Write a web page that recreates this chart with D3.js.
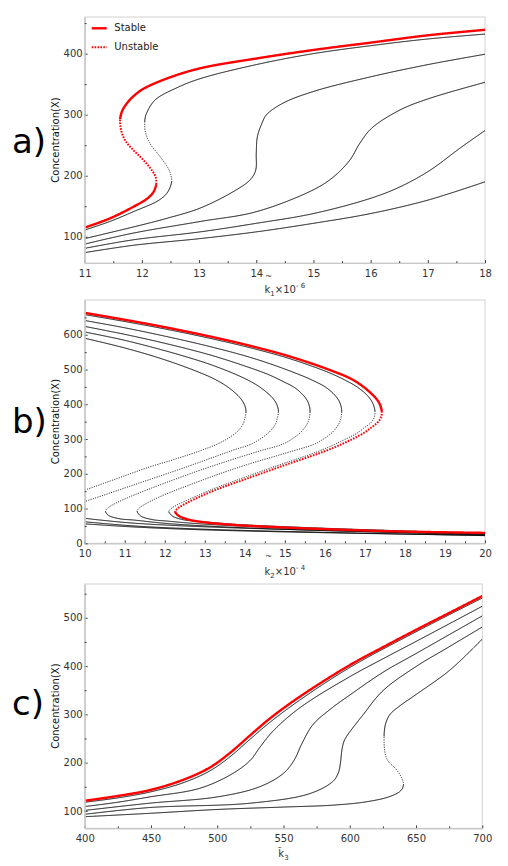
<!DOCTYPE html>
<html>
<head>
<meta charset="utf-8">
<script src="https://cdn.jsdelivr.net/npm/d3@7"></script>
<style>
body { margin: 0; background: #fff; }
text { font-family: "DejaVu Sans", sans-serif; }
</style>
</head>
<body>
<div id="chart"></div>
<script>
////////////////////////////////////////////////////////////////////////////////////////
// Canvas
var svgWidth = 508;
var svgHeight = 866;

////////////////////////////////////////////////////////////////////////////////////////
// Data: [parameter, Concentration(X)]

// a) k1 x 10^-6
var aTicksX = [11, 12, 13, 14, 15, 16, 17, 18];
var aMinorX = [11.5, 12.5, 13.5, 14.5, 15.5, 16.5, 17.5];
var aTicksY = [100, 200, 300, 400];
var aMinorY = [150, 250, 350, 450];

var a1Low = [[11, 115], [11.44, 130], [11.85, 149], [12.1, 163], [12.2, 173], [12.25, 186]];
var a1Mid = [[12.25, 186], [12.24, 198], [12.18, 208], [12.08, 220], [11.96, 232], [11.85, 242], [11.72, 256], [11.65, 270], [11.62, 285], [11.62, 293]];
var a1Up = [[11.62, 293], [11.64, 302], [11.67, 309], [11.75, 320], [11.85, 330], [12.02, 342], [12.43, 359], [13.02, 376], [14, 392], [15, 406], [16, 418], [17, 430], [18, 439]];
var a2Low = [[11, 111], [11.44, 125], [11.85, 141], [12.3, 160], [12.45, 173], [12.52, 190]];
var a2Mid = [[12.52, 190], [12.51, 200], [12.46, 212], [12.32, 231], [12.14, 253], [12.06, 272], [12.05, 288]];
var a2Up = [[12.05, 288], [12.06, 296], [12.08, 302], [12.23, 324], [12.61, 344], [13.02, 359], [14, 382], [15, 400], [16, 413], [17, 424], [18, 432]];
var a3 = [[11, 97], [11.85, 116], [12.43, 130], [13.02, 147], [13.6, 174], [13.89, 193], [13.99, 209], [14, 237], [14.02, 264], [14.1, 286], [14.18, 300], [14.47, 319], [15, 338], [16, 362], [17, 382], [18, 399]];
var a4 = [[11, 88], [11.85, 106], [13.02, 125], [14, 141], [15, 177], [15.35, 198], [15.64, 226], [15.81, 253], [16.02, 278], [16.52, 308], [17.04, 327], [18, 353]];
var a5 = [[11, 81], [11.85, 95], [13.02, 108], [14, 122], [15, 138], [16, 163], [16.52, 182], [17.04, 209], [17.56, 245], [18, 274]];
var a6 = [[11, 74], [11.85, 86], [13.02, 97], [14, 108], [15, 122], [16, 138], [17, 160], [18, 190]];

// b) k2 x 10^-4
var bTicksX = [10, 11, 12, 13, 14, 15, 16, 17, 18, 19, 20];
var bMinorX = [10.5, 11.5, 12.5, 13.5, 14.5, 15.5, 16.5, 17.5, 18.5, 19.5];
var bTicksY = [0, 100, 200, 300, 400, 500, 600];
var bMinorY = [50, 150, 250, 350, 450, 550, 650];

var b1Up = [[10, 663], [10.91, 645], [11.86, 625], [12.93, 600], [14, 572], [15.05, 540], [16.09, 500], [16.72, 469], [17.15, 432], [17.35, 405], [17.42, 380]];
var b1Mid = [[17.42, 380], [17.4, 362], [17.31, 347], [17.16, 333], [16.98, 318], [16.55, 292], [16, 265], [15, 225], [14, 184], [13.3, 155], [12.8, 130], [12.45, 110], [12.3, 98], [12.26, 92]];
var b1Low = [[12.26, 92], [12.3, 84], [12.38, 77], [12.6, 68], [12.88, 62], [13.71, 53], [14.88, 46], [16.2, 40], [17.88, 34], [20, 30]];
var b2Up = [[10, 658], [10.91, 640], [11.9, 619], [12.96, 594], [14.05, 565], [15.07, 533], [16.06, 493], [16.53, 468], [16.84, 447], [17.08, 423], [17.2, 402], [17.25, 381]];
var b2Mid = [[17.25, 381], [17.23, 362], [17.15, 347], [16.99, 333], [16.82, 318], [16.38, 292], [15.85, 265], [14.85, 225], [13.9, 186], [13.2, 156], [12.68, 130], [12.3, 110], [12.14, 98], [12.1, 92]];
var b2Low = [[12.1, 92], [12.14, 84], [12.21, 77], [12.45, 68], [12.88, 63], [13.71, 55], [15.38, 46], [17.88, 36], [20, 29]];
var b3Up = [[10, 641], [11, 620], [12.04, 595], [13.13, 566], [14.19, 533], [15.1, 497], [15.71, 468], [16.07, 445], [16.32, 416], [16.4, 396], [16.42, 378]];
var b3Mid = [[16.42, 378], [16.4, 360], [16.35, 344], [16.24, 326], [16.1, 311], [15.75, 286], [15.21, 266], [13.88, 220], [12.71, 172], [11.88, 134], [11.5, 112], [11.35, 100], [11.31, 92]];
var b3Low = [[11.31, 92], [11.35, 84], [11.42, 77], [11.7, 68], [12.05, 64], [12.88, 56], [14.55, 46], [16.2, 38], [20, 27]];
var b4Up = [[10, 624], [11.05, 600], [12.09, 573], [13.19, 540], [14.18, 503], [14.6, 485], [14.93, 467], [15.28, 445], [15.53, 416], [15.61, 396], [15.63, 378]];
var b4Mid = [[15.63, 378], [15.61, 360], [15.56, 344], [15.45, 326], [15.31, 311], [14.96, 286], [14.38, 266], [13.13, 220], [11.97, 172], [11.13, 134], [10.72, 112], [10.56, 100], [10.52, 92]];
var b4Low = [[10.52, 92], [10.56, 84], [10.63, 78], [10.9, 70], [11.22, 67], [12.05, 57], [13.71, 46], [16.2, 36], [20, 26]];
var b5Up = [[10, 608], [11, 584], [12.04, 553], [12.58, 535], [13.1, 516], [13.69, 490], [14.12, 467], [14.43, 445], [14.71, 416], [14.81, 396], [14.84, 378]];
var b5Mid = [[14.84, 378], [14.81, 360], [14.77, 344], [14.66, 326], [14.52, 311], [14.17, 286], [13.71, 268], [12.55, 220], [11.38, 174], [10, 120]];
var b5Low = [[10, 72], [10.38, 67], [11.22, 58], [12.88, 48], [16.2, 36], [20, 24]];
var b6Up = [[10, 590], [11, 562], [12, 528], [12.9, 490], [13.3, 469], [13.63, 445], [13.9, 416], [14, 396], [14.03, 378]];
var b6Mid = [[14.03, 378], [14, 360], [13.96, 344], [13.85, 326], [13.7, 311], [13.36, 288], [12.88, 266], [12.2, 240], [11.63, 220], [10.8, 186], [10, 153]];
var b6Low = [[10, 62], [11.22, 50], [12.88, 41], [16.2, 31], [20, 22]];
var b7Low = [[10, 56], [11.22, 47], [12.88, 39], [16.2, 30], [20, 23]];

// c) k3
var cTicksX = [400, 450, 500, 550, 600, 650, 700];
var cMinorX = [425, 475, 525, 575, 625, 675];
var cTicksY = [100, 200, 300, 400, 500];
var cMinorY = [150, 250, 350, 450, 550];

var c1 = [[400, 121], [425, 131], [449, 143], [474, 164], [494.5, 190], [510, 221], [525, 257], [540, 292], [562.5, 337], [600, 402], [625, 439], [650, 475], [675, 510], [700, 545]];
var c2 = [[400, 118], [425, 127], [449, 139], [474, 158], [494.5, 183], [510, 213], [525, 249], [540, 284], [562.5, 330], [600, 397], [650, 471], [700, 541]];
var c3 = [[400, 109], [425, 118], [449, 129], [487, 147], [512, 178], [525, 205], [532, 231], [542, 265], [562.5, 314], [600, 378], [625, 415], [650, 451], [700, 524]];
var c4 = [[400, 101], [449, 116], [500, 129], [532, 150], [550, 178], [558, 205], [564, 240], [572, 278], [585, 310], [600, 340], [625, 387], [650, 426], [700, 504]];
var c5 = [[400, 93], [449, 107], [525, 116], [570, 136], [587.6, 162], [591.5, 180], [593, 200], [594, 225], [595.5, 243], [598, 256], [602, 271], [610, 299], [625, 349], [650, 399], [675, 440], [700, 481]];
var c6Low = [[400, 88], [449, 95], [500, 103], [550, 108], [587.6, 112], [612.8, 119], [630.4, 130], [638.5, 142], [640.5, 154]];
var c6Mid = [[640.5, 154], [639.5, 166], [635.4, 185], [628.5, 205], [626.3, 226], [625.9, 254]];
var c6Up = [[625.9, 254], [626.2, 268], [627.3, 283], [630.4, 300], [637, 316], [650.5, 342], [675.7, 392], [700, 456]];

////////////////////////////////////////////////////////////////////////////////////////
// Curves, branch by branch in drawing order: stable = solid, unstable = dotted; hl = the red case
var aCurves = [
    {hl: false, segs: [[a2Low, true], [a2Mid, false], [a2Up, true]]},
    {hl: false, segs: [[a3, true]]},
    {hl: false, segs: [[a4, true]]},
    {hl: false, segs: [[a5, true]]},
    {hl: false, segs: [[a6, true]]},
    {hl: true, segs: [[a1Low, true], [a1Mid, false], [a1Up, true]]}
];
var bCurves = [
    {hl: false, segs: [[b2Up, true], [b2Mid, false], [b2Low, true]]},
    {hl: false, segs: [[b3Up, true], [b3Mid, false], [b3Low, true]]},
    {hl: false, segs: [[b4Up, true], [b4Mid, false], [b4Low, true]]},
    {hl: false, segs: [[b5Up, true], [b5Mid, false]]},
    {hl: false, segs: [[b5Low, true]]},
    {hl: false, segs: [[b6Up, true], [b6Mid, false]]},
    {hl: false, segs: [[b6Low, true]]},
    {hl: false, segs: [[b7Low, true]]},
    {hl: true, segs: [[b1Up, true], [b1Mid, false], [b1Low, true]]}
];
var cCurves = [
    {hl: false, segs: [[c2, true]]},
    {hl: false, segs: [[c3, true]]},
    {hl: false, segs: [[c4, true]]},
    {hl: false, segs: [[c5, true]]},
    {hl: false, segs: [[c6Low, true], [c6Mid, false], [c6Up, true]]},
    {hl: true, segs: [[c1, true]]}
];

////////////////////////////////////////////////////////////////////////////////////////
// Panel layout
var panels = [
    {tag: "a)", tagY: 153, left: 84.7, right: 485, top: 17, bottom: 263,
     xDomain: [11, 18], yDomain: [57, 460],
     xTicks: aTicksX, xMinor: aMinorX, yTicks: aTicksY, yMinor: aMinorY,
     curves: aCurves, sub: "1", sup: "- 6", labelY: 293, legend: true},
    {tag: "b)", tagY: 433, left: 84.7, right: 485, top: 300, bottom: 543.3,
     xDomain: [10, 20], yDomain: [0, 700],
     xTicks: bTicksX, xMinor: bMinorX, yTicks: bTicksY, yMinor: bMinorY,
     curves: bCurves, sub: "2", sup: "- 4", labelY: 575, legend: false},
    {tag: "c)", tagY: 715, left: 84.7, right: 482.3, top: 584, bottom: 828.3,
     xDomain: [400, 700], yDomain: [64, 570],
     xTicks: cTicksX, xMinor: cMinorX, yTicks: cTicksY, yMinor: cMinorY,
     curves: cCurves, sub: "3", sup: null, labelY: 857, legend: false}
];

var svg = d3.select("#chart").append("svg")
    .attr("width", svgWidth)
    .attr("height", svgHeight);

var red = "#ff0000";

// Draw one smooth curve through all branches, then cut it at the fold points
// so that solid and dotted pieces join without corners.
function splitCurve(segs, line, x, y) {
    var full = [];
    var joins = [];
    segs.forEach(function(s, j) {
        full = full.concat(j === 0 ? s[0] : s[0].slice(1));
        joins.push(full[full.length - 1]);
    });
    var tmp = svg.append("path").attr("d", line(full)).attr("fill", "none");
    var node = tmp.node();
    var L = node.getTotalLength();
    var samples = [];
    for (var s = 0; s < L; s += 0.5) samples.push(node.getPointAtLength(s));
    samples.push(node.getPointAtLength(L));
    tmp.remove();

    var pieces = [];
    var start = 0;
    segs.forEach(function(seg, j) {
        var end = samples.length - 1;
        if (j < segs.length - 1) {
            var px = x(joins[j][0]), py = y(joins[j][1]);
            var bd = Infinity;
            for (var k = start; k < samples.length; k++) {
                var d = (samples[k].x - px) * (samples[k].x - px) + (samples[k].y - py) * (samples[k].y - py);
                if (d < bd) { bd = d; end = k; }
            }
        }
        pieces.push({pts: samples.slice(start, end + 1), stable: seg[1]});
        start = end;
    });
    return pieces;
}

function drawPanel(p, i) {
    var g = svg.append("g");
    var x = d3.scaleLinear().domain(p.xDomain).range([p.left, p.right]);
    var y = d3.scaleLinear().domain(p.yDomain).range([p.bottom, p.top]);

    // clip to plot area
    g.append("clipPath").attr("id", "clip" + i)
        .append("rect")
        .attr("x", p.left).attr("y", p.top)
        .attr("width", p.right - p.left).attr("height", p.bottom - p.top);

    // frame
    g.append("rect")
        .attr("x", p.left).attr("y", p.top)
        .attr("width", p.right - p.left).attr("height", p.bottom - p.top)
        .attr("fill", "none").attr("stroke", "#d2d2d2").attr("stroke-width", 1);

    var line = d3.line()
        .x(function(d) { return x(d[0]); })
        .y(function(d) { return y(d[1]); })
        .curve(d3.curveCatmullRom.alpha(0.5));
    var poly = d3.line().x(function(d) { return d.x; }).y(function(d) { return d.y; });

    var plot = g.append("g").attr("clip-path", "url(#clip" + i + ")");

    p.curves.forEach(function(c) {
        splitCurve(c.segs, line, x, y).forEach(function(piece) {
            var path = plot.append("path").attr("d", poly(piece.pts))
                .attr("fill", "none")
                .attr("stroke", c.hl ? red : "#000");
            if (piece.stable) {
                path.attr("stroke-width", c.hl ? 2.4 : 1);
            } else {
                path.attr("stroke-width", c.hl ? 2 : 1)
                    .attr("stroke-dasharray", c.hl ? "1.6,1.3" : "1,1.4");
            }
        });
    });

    // Axes (ticks point inward)
    var fmt = d3.format("d");
    var xAxis = g.append("g").attr("transform", "translate(0," + p.bottom + ")")
        .call(d3.axisBottom(x).tickValues(p.xTicks).tickFormat(fmt).tickSizeInner(-3).tickSizeOuter(0).tickPadding(6.5));
    var xMinor = g.append("g").attr("transform", "translate(0," + p.bottom + ")")
        .call(d3.axisBottom(x).tickValues(p.xMinor).tickSizeInner(-2).tickSizeOuter(0).tickFormat(""));
    var yAxis = g.append("g").attr("transform", "translate(" + p.left + ",0)")
        .call(d3.axisLeft(y).tickValues(p.yTicks).tickFormat(fmt).tickSizeInner(-3).tickSizeOuter(0).tickPadding(2));
    var yMinor = g.append("g").attr("transform", "translate(" + p.left + ",0)")
        .call(d3.axisLeft(y).tickValues(p.yMinor.filter(function(v) { return v <= p.yDomain[1]; }))
            .tickSizeInner(-2).tickSizeOuter(0).tickFormat(""));

    [xAxis, xMinor, yAxis, yMinor].forEach(function(a) {
        a.select(".domain").attr("stroke", "#c8c8c8");
        a.selectAll(".tick line").attr("stroke", "#444");
        a.selectAll("text").attr("fill", "#333").style("font-size", "10px")
            .style("font-family", "'DejaVu Sans', sans-serif");
    });

    // Y label
    g.append("text")
        .attr("transform", "translate(59," + (p.top + p.bottom) / 2 + ") rotate(-90)")
        .attr("text-anchor", "middle")
        .attr("fill", "#111")
        .style("font-size", "10px")
        .text("Concentration(X)");

    // X label
    var cx = (p.left + p.right) / 2;
    var lab = g.append("text").attr("y", p.labelY).attr("fill", "#333").style("font-size", "10px");
    if (p.sup) {
        lab.append("tspan").text("k");
        lab.append("tspan").attr("dy", 3).style("font-size", "7px").text(p.sub);
        lab.append("tspan").attr("dy", -3).text("\u00d710");
        lab.append("tspan").attr("dy", -5).style("font-size", "7px").text(p.sup);
    } else {
        lab.append("tspan").text("k\u0303");
        lab.append("tspan").attr("dy", 3).style("font-size", "7px").text(p.sub);
    }
    var w = lab.node().getComputedTextLength();
    lab.attr("x", cx - w / 2);
    if (p.sup) {
        g.append("text")
            .attr("x", cx - w / 2 + 4).attr("y", p.bottom + 16)
            .attr("text-anchor", "middle")
            .attr("fill", "#333").style("font-size", "8px")
            .text("~");
    }

    // Panel tag
    g.append("text")
        .attr("x", 12).attr("y", p.tagY)
        .attr("fill", "#000")
        .style("font-size", "34px")
        .text(p.tag);

    // Legend
    if (p.legend) {
        var lg = g.append("g");
        lg.append("line")
            .attr("x1", p.left + 7).attr("x2", p.left + 22)
            .attr("y1", p.top + 11.3).attr("y2", p.top + 11.3)
            .attr("stroke", red).attr("stroke-width", 2.4);
        lg.append("line")
            .attr("x1", p.left + 7).attr("x2", p.left + 22)
            .attr("y1", p.top + 30.3).attr("y2", p.top + 30.3)
            .attr("stroke", red).attr("stroke-width", 2).attr("stroke-dasharray", "1.6,1.3");
        lg.append("text").attr("x", p.left + 29.6).attr("y", p.top + 14)
            .attr("fill", "#222").style("font-size", "10px").text("Stable");
        lg.append("text").attr("x", p.left + 29.6).attr("y", p.top + 33)
            .attr("fill", "#222").style("font-size", "10px").text("Unstable");
    }
}

panels.forEach(drawPanel);
</script>
</body>
</html>
